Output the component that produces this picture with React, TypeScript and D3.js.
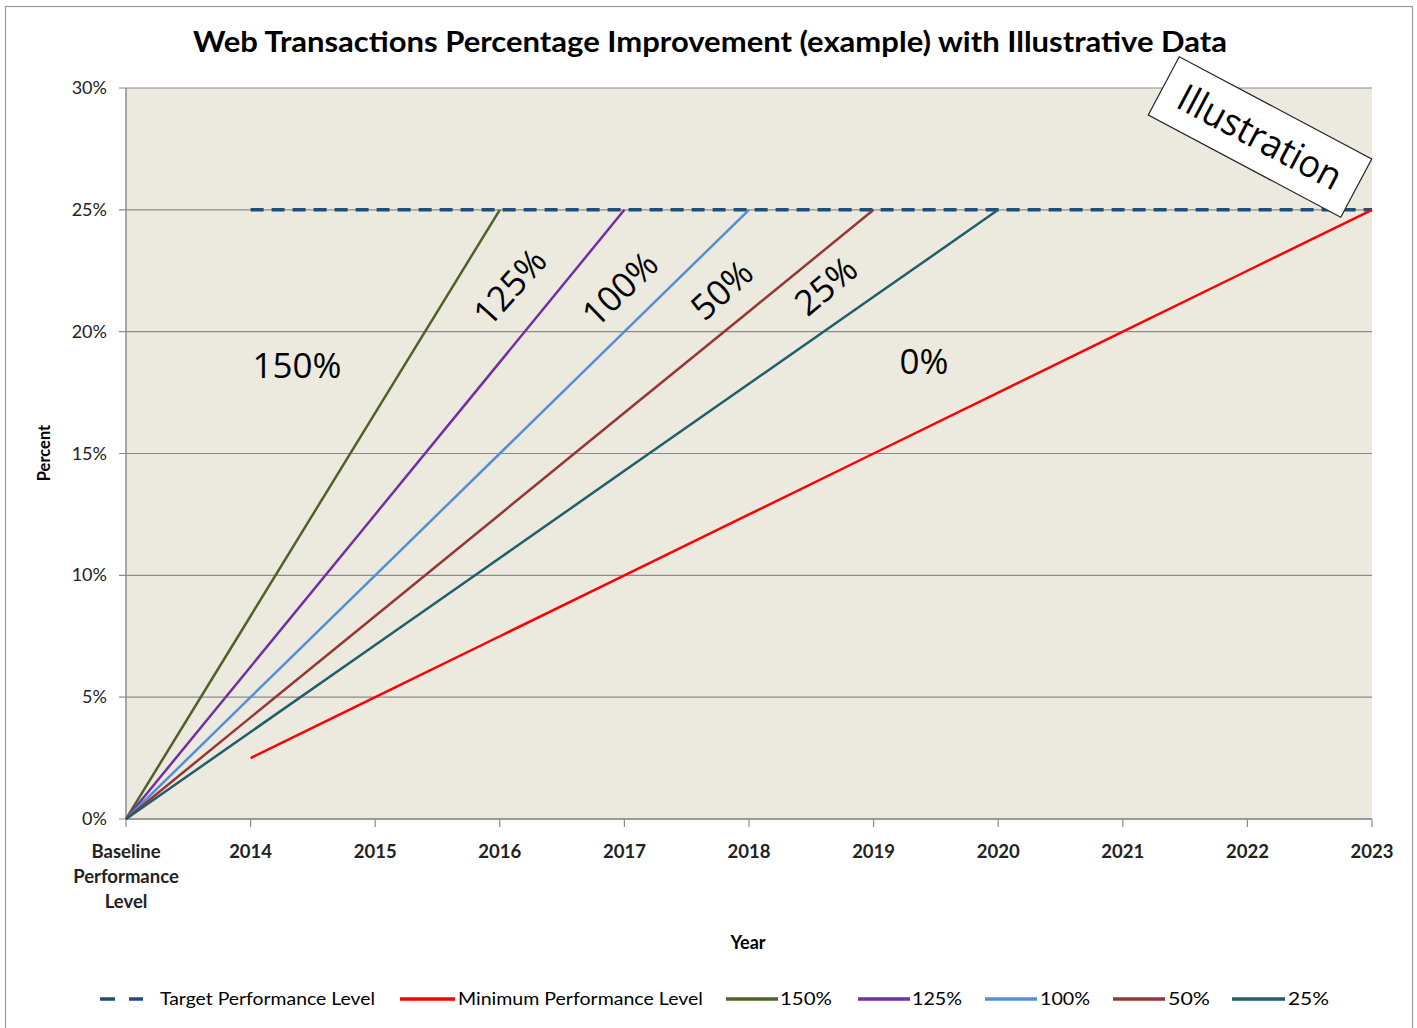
import React from 'react';
import * as d3 from 'd3';

const categories = ['Baseline', '2014', '2015', '2016', '2017', '2018', '2019', '2020', '2021', '2022', '2023'];
const categoryLines: Record<string, string[]> = { Baseline: ['Baseline', 'Performance', 'Level'] };
const yTicks = [0, 5, 10, 15, 20, 25, 30];

// values per category, null where the series has no point
const target = [null, 25, 25, 25, 25, 25, 25, 25, 25, 25, 25];
const minimum = [null, 2.5, 5, 7.5, 10, 12.5, 15, 17.5, 20, 22.5, 25];
const s150 = [0, 8.33, 16.67, 25];
const s125 = [0, 6.25, 12.5, 18.75, 25];
const s100 = [0, 5, 10, 15, 20, 25];
const s50 = [0, 4.17, 8.33, 12.5, 16.67, 20.83, 25];
const s25 = [0, 3.57, 7.14, 10.71, 14.29, 17.86, 21.43, 25];

const series = [
  { name: 'Target Performance Level', values: target, color: '#1F4E79', dash: '13,8', width: 3.5 },
  { name: 'Minimum Performance Level', values: minimum, color: '#FF0000', dash: null, width: 2.5 },
  { name: '150%', values: s150, color: '#4F6228', dash: null, width: 2.5 },
  { name: '125%', values: s125, color: '#7030A0', dash: null, width: 2.5 },
  { name: '100%', values: s100, color: '#558ED5', dash: null, width: 2.5 },
  { name: '50%', values: s50, color: '#953735', dash: null, width: 2.5 },
  { name: '25%', values: s25, color: '#215E6B', dash: null, width: 2.5 },
];

const annotations = ['150%', '125%', '100%', '50%', '25%', '0%'];

const W = 1417;
const H = 1028;
const font = 'Lato, "Open Sans", sans-serif';

export default function App() {
  const x = d3.scalePoint<string>().domain(categories).range([126, 1372]);
  const y = d3.scaleLinear().domain([0, 30]).range([819, 88]);

  const line = d3
    .line<number | null>()
    .defined((d) => d !== null)
    .x((_, i) => x(categories[i]) as number)
    .y((d) => y(d as number));

  // label placements: [cx, cy, rotate]
  const annPos: [number, number, number][] = [
    [297, 366, 0],
    [510, 287, -48],
    [620, 289, -44],
    [722, 290, -42],
    [826, 286, -40],
    [924, 362, 0],
  ];

  // legend layout: [sample start, sample end, text start, text width]
  const legendPos: [number, number, number, number][] = [
    [100, 143, 160, 215],
    [400, 455, 458, 245],
    [726, 778, 780, 52],
    [858, 910, 912, 50],
    [985, 1037, 1040, 50],
    [1113, 1165, 1168, 42],
    [1232, 1285, 1288, 41],
  ];

  return (
    <svg width={W} height={H} style={{ position: 'absolute', left: 0, top: 0, display: 'block', background: '#fff' }}>
      <rect x={5.5} y={6.5} width={1407} height={1030} fill="#fff" stroke="#9a9a9a" strokeWidth={1.2} />
      <text x={710} y={52} textAnchor="middle" fontFamily={font} fontWeight={700} fontSize={28}
        textLength={1034} lengthAdjust="spacingAndGlyphs" fill="#000">
        Web Transactions Percentage Improvement (example) with Illustrative Data
      </text>

      <rect x={126} y={88} width={1246} height={731} fill="#ECE9DF" />

      {yTicks.map((t) => (
        <g key={t}>
          <line x1={119} x2={1372} y1={y(t)} y2={y(t)} stroke="#8c8c8c" strokeWidth={1.2} />
          <text x={107} y={y(t) + 6} textAnchor="end" fontFamily={font} fontSize={18} fill="#222">{t}%</text>
        </g>
      ))}
      <line x1={126} x2={126} y1={88} y2={819} stroke="#8c8c8c" strokeWidth={1.5} />
      <line x1={126} x2={1372} y1={819} y2={819} stroke="#8c8c8c" strokeWidth={1.5} />

      {categories.map((c) => {
        const lines = categoryLines[c] || [c];
        return (
          <g key={c}>
            <line x1={x(c)} x2={x(c)} y1={819} y2={827} stroke="#8c8c8c" strokeWidth={1.2} />
            {lines.map((l, i) => (
              <text key={l} x={x(c)} y={858 + i * 25} textAnchor="middle" fontFamily={font}
                fontWeight={700} fontSize={18.5} fill="#222">{l}</text>
            ))}
          </g>
        );
      })}

      <text transform="translate(50,453) rotate(-90)" textAnchor="middle" fontFamily={font}
        fontWeight={700} fontSize={16.5} fill="#000">Percent</text>
      <text x={748} y={949} textAnchor="middle" fontFamily={font} fontWeight={700} fontSize={18} fill="#000">Year</text>

      {series.map((s) => (
        <path key={s.name} d={line(s.values) || ''} fill="none" stroke={s.color} strokeWidth={s.width}
          strokeDasharray={s.dash || undefined} />
      ))}

      {annotations.map((a, i) => (
        <text key={a} transform={`translate(${annPos[i][0]},${annPos[i][1]}) rotate(${annPos[i][2]})`}
          textAnchor="middle" dy="0.35em" fontFamily='"Open Sans", sans-serif' fontSize={35} fill="#000">{a}</text>
      ))}

      <g transform="translate(1260,137) rotate(28)">
        <rect x={-109} y={-33} width={218} height={66} fill="#fff" stroke="#222" strokeWidth={1.2} />
        <text textAnchor="middle" dy="0.35em" fontFamily='"Open Sans", sans-serif' fontSize={38}
          textLength={180} lengthAdjust="spacingAndGlyphs" fill="#000">Illustration</text>
      </g>

      {series.map((s, i) => {
        const [a, b, t, tw] = legendPos[i];
        return (
          <g key={s.name}>
            <line x1={a} x2={b} y1={999} y2={999} stroke={s.color} strokeWidth={3.5}
              strokeDasharray={s.dash ? '15,14' : undefined} />
            <text x={t} y={1005} fontFamily={font} fontSize={17} textLength={tw} lengthAdjust="spacingAndGlyphs"
              fill="#000">{s.name}</text>
          </g>
        );
      })}
    </svg>
  );
}
